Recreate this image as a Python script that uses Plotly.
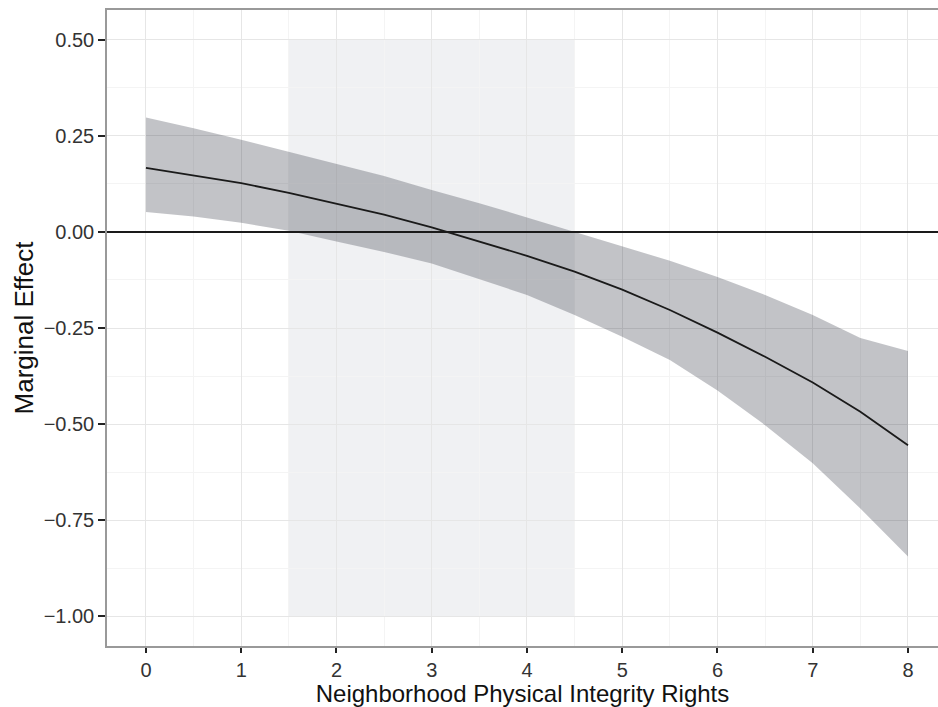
import plotly.graph_objects as go

# Data
x_vals = [0, 0.5, 1, 1.5, 2, 2.5, 3, 3.5, 4, 4.5, 5, 5.5, 6, 6.5, 7, 7.5, 8]
effect = [0.167, 0.147, 0.127, 0.102, 0.073, 0.045, 0.012, -0.025, -0.062,
          -0.103, -0.150, -0.203, -0.262, -0.325, -0.392, -0.468, -0.555]
upper = [0.298, 0.270, 0.240, 0.209, 0.179, 0.146, 0.109, 0.075, 0.038,
         0.000, -0.038, -0.075, -0.117, -0.164, -0.216, -0.276, -0.310]
lower = [0.052, 0.040, 0.024, 0.003, -0.025, -0.052, -0.082, -0.122, -0.164,
         -0.216, -0.273, -0.333, -0.413, -0.503, -0.602, -0.720, -0.845]
shade_x = [1.5, 4.5]
shade_y = [-1.0, 0.5]
ref_line_y = 0.0
x_ticks = [0, 1, 2, 3, 4, 5, 6, 7, 8]
y_ticks = [0.5, 0.25, 0.0, -0.25, -0.5, -0.75, -1.0]
y_tick_text = ["0.50", "0.25", "0.00", "\u22120.25", "\u22120.50", "\u22120.75", "\u22121.00"]

fig = go.Figure()

# shaded region
fig.add_shape(type="rect", xref="x", yref="y",
              x0=shade_x[0], x1=shade_x[1], y0=shade_y[0], y1=shade_y[1],
              fillcolor="#f0f1f3", line=dict(width=0), layer="below")

# confidence ribbon
fig.add_trace(go.Scatter(x=x_vals, y=lower, mode="lines", line=dict(width=0),
                         hoverinfo="skip", showlegend=False))
fig.add_trace(go.Scatter(x=x_vals, y=upper, mode="lines", line=dict(width=0),
                         fill="tonexty", fillcolor="rgba(52,55,68,0.30)",
                         hoverinfo="skip", showlegend=False))
# marginal effect line
fig.add_trace(go.Scatter(x=x_vals, y=effect, mode="lines",
                         line=dict(color="#1a1a1a", width=1.8), showlegend=False))

fig.add_hline(y=ref_line_y, line=dict(color="#1a1a1a", width=2), layer="above")

font_family = "Liberation Sans, Arial, Helvetica, sans-serif"

fig.update_layout(
    width=938, height=707,
    margin=dict(l=107, r=0, t=10, b=61),
    paper_bgcolor="white", plot_bgcolor="white",
    font=dict(family=font_family, color="#222222"),
    showlegend=False,
)

fig.update_xaxes(
    range=[-0.409, 8.315], tickvals=x_ticks, ticktext=[str(v) for v in x_ticks],
    showgrid=True, gridcolor="#e6e6e6", gridwidth=1,
    minor=dict(showgrid=True, gridcolor="#f4f4f4", gridwidth=1, dtick=0.5, tick0=0),
    showline=True, linecolor="#999999", linewidth=1.5, mirror=True,
    ticks="outside", ticklen=5, tickwidth=2, tickcolor="#222222",
    tickfont=dict(size=20, color="#333333"),
    zeroline=False,
    title=dict(text="Neighborhood Physical Integrity Rights",
               font=dict(size=24, color="#111111"), standoff=3),
)
fig.update_yaxes(
    range=[-1.078, 0.578], tickvals=y_ticks, ticktext=y_tick_text,
    showgrid=True, gridcolor="#e6e6e6", gridwidth=1,
    minor=dict(showgrid=True, gridcolor="#f4f4f4", gridwidth=1, dtick=0.125, tick0=0),
    showline=True, linecolor="#999999", linewidth=1.5, mirror=False,
    ticks="outside", ticklen=7, tickwidth=2, tickcolor="#222222",
    tickfont=dict(size=20, color="#333333"),
    zeroline=False,
    title=dict(text="Marginal Effect", font=dict(size=26, color="#111111"), standoff=3),
)

fig.write_html("out.html", config={"displayModeBar": False},
               post_script="document.body.style.margin='0';document.body.style.padding='0';")
